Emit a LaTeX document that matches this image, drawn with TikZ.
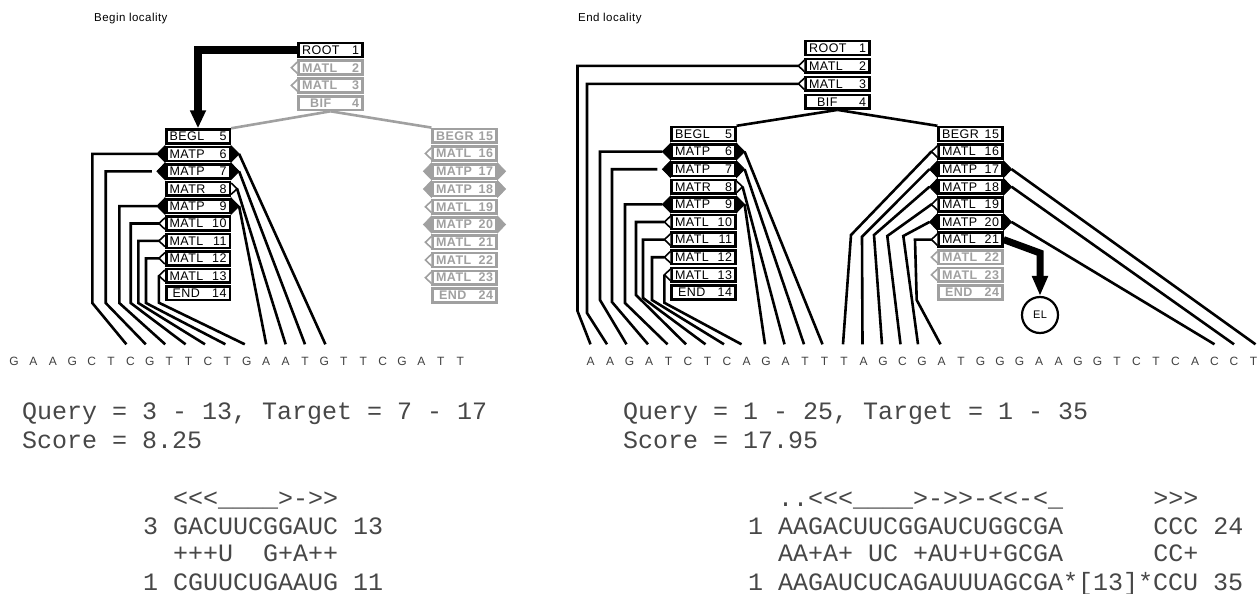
\documentclass[tikz,border=0pt]{standalone}
\usepackage{fontspec}
\setmainfont{Liberation Sans}
\setmonofont{Liberation Mono}
\newfontfamily\boxfont{Liberation Sans}[LetterSpace=4]
\usetikzlibrary{arrows.meta,calc}
\definecolor{ng}{RGB}{160,160,160}
\pgfdeclarelayer{paper}
\pgfdeclarelayer{bg}
\pgfsetlayers{paper,bg,main}
\newcommand\bx[2]{\makebox[57pt]{#1\hfill#2}}
\newcommand\mkPL[2][black]{\filldraw[#1,line width=0.8pt] (#2.north west) -- ([xshift=-8pt]#2.west) -- (#2.south west) -- cycle;}
\newcommand\mkPR[2][black]{\filldraw[#1,line width=0.8pt] (#2.north east) -- ([xshift=8pt]#2.east) -- (#2.south east) -- cycle;}
\newcommand\mkOL[2][black]{\draw[#1,line width=1.6pt,fill=white] ([yshift=-2.5pt]#2.north west) -- ([xshift=-6pt]#2.west) -- ([yshift=2.5pt]#2.south west);}
\newcommand\mkOR[2][black]{\draw[#1,line width=1.6pt,fill=white] ([yshift=-2.5pt]#2.north east) -- ([xshift=6pt]#2.east) -- ([yshift=2.5pt]#2.south east);}
\begin{document}
\begin{tikzpicture}[x=1pt,y=-1pt,
 nd/.style={draw=black,line width=2.6pt,fill=white,rectangle,minimum width=63.6pt,minimum height=13.8pt,inner sep=0pt,font=\boxfont\fontsize{12.5}{12.5}\selectfont,text=black},
 gnd/.style={nd,draw=ng,text=ng,font=\boxfont\bfseries\fontsize{12.5}{12.5}\selectfont},
 conn/.style={line width=2.6pt,black,line join=miter},
 gconn/.style={line width=2.6pt,ng},
 seq/.style={font=\boxfont\fontsize{12}{12}\selectfont,text=black!75,inner sep=0pt,text height=8.5pt,text depth=0pt,anchor=base},
 mono/.style={font=\ttfamily\fontsize{25}{25}\selectfont,anchor=base west,inner sep=0pt,text=black!72},
 ttl/.style={font=\boxfont\fontsize{11.5}{11.5}\selectfont,anchor=base west,inner sep=0pt},
 bigarrow/.style={line join=miter,black}
]
\begin{pgfonlayer}{paper}
\fill[white] (0,0) rectangle (1258,594);
\end{pgfonlayer}
\useasboundingbox (0,0) rectangle (1258,594);

% ---------------- titles
\node[ttl] (t1) at (94,22) {Begin locality};
\node[ttl] (t2) at (578,22) {End locality};

% ---------------- left panel nodes
\node[nd] (A1) at (330.5,50) {\bx{ROOT}{1}};
\node[gnd] (A2) at (330.5,67.7) {\bx{MATL}{2}};
\node[gnd] (A3) at (330.5,85.4) {\bx{MATL}{3}};
\node[gnd] (A4) at (330.5,103.1) {\bx{\hspace{8pt}BIF}{4}};
\node[nd] (B5) at (198,136.5) {\bx{BEGL}{5}};
\node[nd] (B6) at (198,153.9) {\bx{MATP}{6}};
\node[nd] (B7) at (198,171.3) {\bx{MATP}{7}};
\node[nd] (B8) at (198,188.7) {\bx{MATR}{8}};
\node[nd] (B9) at (198,206.1) {\bx{MATP}{9}};
\node[nd] (B10) at (198,223.5) {\bx{MATL}{10}};
\node[nd] (B11) at (198,240.9) {\bx{MATL}{11}};
\node[nd] (B12) at (198,258.3) {\bx{MATL}{12}};
\node[nd] (B13) at (198,275.7) {\bx{MATL}{13}};
\node[nd] (B14) at (198,293.1) {\bx{\hspace{3pt}END}{14}};
\node[gnd] (G15) at (464.5,135.8) {\bx{BEGR}{15}};
\node[gnd] (G16) at (464.5,153.5) {\bx{MATL}{16}};
\node[gnd] (G17) at (464.5,171.3) {\bx{MATP}{17}};
\node[gnd] (G18) at (464.5,189.0) {\bx{MATP}{18}};
\node[gnd] (G19) at (464.5,206.8) {\bx{MATL}{19}};
\node[gnd] (G20) at (464.5,224.5) {\bx{MATP}{20}};
\node[gnd] (G21) at (464.5,242.2) {\bx{MATL}{21}};
\node[gnd] (G22) at (464.5,260.0) {\bx{MATL}{22}};
\node[gnd] (G23) at (464.5,277.7) {\bx{MATL}{23}};
\node[gnd] (G24) at (464.5,295.5) {\bx{\hspace{3pt}END}{24}};

\mkOL[ng]{A2} \mkOL[ng]{A3}
\mkPL{B6} \mkPR{B6} \mkPL{B7} \mkPR{B7} \mkOR{B8} \mkPL{B9} \mkPR{B9}
\mkOL{B10} \mkOL{B11} \mkOL{B12} \mkOL{B13}
\mkOL[ng]{G16} \mkPL[ng]{G17} \mkPR[ng]{G17} \mkPL[ng]{G18} \mkPR[ng]{G18}
\mkOL[ng]{G19} \mkPL[ng]{G20} \mkPR[ng]{G20} \mkOL[ng]{G21} \mkOL[ng]{G22} \mkOL[ng]{G23}

\foreach \c [count=\i from 0] in {G,A,A,G,C,T,C,G,T,T,C,T,G,A,A,T,G,T,T,C,G,A,T,T}
  {\node[seq] (l\i) at ({14+19.4*\i},365) {\c};}

% ---------------- right panel nodes
\node[nd] (R1) at (837.5,48) {\bx{ROOT}{1}};
\node[nd] (R2) at (837.5,65.9) {\bx{MATL}{2}};
\node[nd] (R3) at (837.5,83.8) {\bx{MATL}{3}};
\node[nd] (R4) at (837.5,101.7) {\bx{\hspace{8pt}BIF}{4}};
\node[nd] (C5) at (703.5,134) {\bx{BEGL}{5}};
\node[nd] (C6) at (703.5,151.6) {\bx{MATP}{6}};
\node[nd] (C7) at (703.5,169.2) {\bx{MATP}{7}};
\node[nd] (C8) at (703.5,186.8) {\bx{MATR}{8}};
\node[nd] (C9) at (703.5,204.4) {\bx{MATP}{9}};
\node[nd] (C10) at (703.5,222) {\bx{MATL}{10}};
\node[nd] (C11) at (703.5,239.6) {\bx{MATL}{11}};
\node[nd] (C12) at (703.5,257.2) {\bx{MATL}{12}};
\node[nd] (C13) at (703.5,274.8) {\bx{MATL}{13}};
\node[nd] (C14) at (703.5,292.4) {\bx{\hspace{3pt}END}{14}};
\node[nd] (D15) at (970.5,134) {\bx{BEGR}{15}};
\node[nd] (D16) at (970.5,151.6) {\bx{MATL}{16}};
\node[nd] (D17) at (970.5,169.2) {\bx{MATP}{17}};
\node[nd] (D18) at (970.5,186.8) {\bx{MATP}{18}};
\node[nd] (D19) at (970.5,204.4) {\bx{MATL}{19}};
\node[nd] (D20) at (970.5,222) {\bx{MATP}{20}};
\node[nd] (D21) at (970.5,239.6) {\bx{MATL}{21}};
\node[gnd] (D22) at (970.5,257.2) {\bx{MATL}{22}};
\node[gnd] (D23) at (970.5,274.8) {\bx{MATL}{23}};
\node[gnd] (D24) at (970.5,292.4) {\bx{\hspace{3pt}END}{24}};
\node[draw,circle,line width=2.2pt,minimum size=36pt,inner sep=0pt,fill=white,font=\boxfont\fontsize{11}{11}\selectfont] (EL) at (1040,315) {EL};
\coordinate (elb) at (1040,253);

\mkOL{R2} \mkOL{R3}
\mkPL{C6} \mkPR{C6} \mkPL{C7} \mkPR{C7} \mkOR{C8} \mkPL{C9} \mkPR{C9}
\mkOL{C10} \mkOL{C11} \mkOL{C12} \mkOL{C13}
\mkOL{D16} \mkPL{D17} \mkPR{D17} \mkPL{D18} \mkPR{D18}
\mkOL{D19} \mkPL{D20} \mkPR{D20} \mkOL{D21} \mkOL[ng]{D22} \mkOL[ng]{D23}

\foreach \c [count=\j from 1] in {A,A,G,A,T,C,T,C,A,G,A,T,T,T,A,G,C,G,A,T,G,G,G,A,A,G,G,T,C,T,C,A,C,C,T}
  {\node[seq] (r\j) at ({590.5+19.5*(\j-1)},365) {\c};}

% ---------------- connectors
\begin{pgfonlayer}{bg}
% left panel
\draw[bigarrow,line width=8.5pt,-{Triangle[length=18pt,width=15pt]}] (A1.west) -| (B5.north);
\draw[gconn] (A4.south) -- (B5.north east);
\draw[gconn] (A4.south) -- (G15.north west);
\draw[conn] ([xshift=-8pt]B6.west) -| (92.3,303) -- ($(l6.north)+(-4,-12)$);
\draw[conn] ([xshift=-13pt]B7.west) -| (105.7,303) -- ($(l7.north)+(-4,-12)$);
\draw[conn] ([xshift=-8pt]B9.west) -| (119.3,303) -- ($(l8.north)+(-4,-12)$);
\draw[conn] ([xshift=-6pt]B10.west) -| (130.7,303) -- ($(l9.north)+(-3,-12)$);
\draw[conn] ([xshift=-6pt]B11.west) -| (138.3,303) -- ($(l10.north)+(-3,-12)$);
\draw[conn] ([xshift=-6pt]B12.west) -| (146,303) -- ($(l11.north)+(-2,-12)$);
\draw[conn] ([xshift=-6pt]B13.west) -- ++(0,27) -- ($(l12.north)+(-2,-12)$);
\draw[conn] ([xshift=8pt]B6.east) -- ($(l16.north)+(1,-12)$);
\draw[conn] ([xshift=8pt]B7.east) -- ($(l15.north)+(0,-12)$);
\draw[conn] ([xshift=6pt]B8.east) -- ($(l14.north)+(0,-12)$);
\draw[conn] ([xshift=8pt]B9.east) -- ($(l13.north)+(0,-12)$);
% right panel
\draw[conn] (R4.south) -- (C5.north east);
\draw[conn] (R4.south) -- (D15.north west);
\draw[conn] ([xshift=-6pt]R2.west) -| (577.5,311) -- ($(r1.north)+(0,-12)$);
\draw[conn] ([xshift=-6pt]R3.west) -| (587,313) -- ($(r2.north)+(-3,-12)$);
\draw[conn] ([xshift=-8pt]C6.west) -| (600,300) -- ($(r3.north)+(-3,-12)$);
\draw[conn] ([xshift=-13pt]C7.west) -| (612,302) -- ($(r4.north)+(-1,-12)$);
\draw[conn] ([xshift=-8pt]C9.west) -| (625,303) -- ($(r5.north)+(-1,-12)$);
\draw[conn] ([xshift=-6pt]C10.west) -| (636,295) -- ($(r6.north)+(-2,-12)$);
\draw[conn] ([xshift=-6pt]C11.west) -| (643,298) -- ($(r7.north)+(-2,-12)$);
\draw[conn] ([xshift=-6pt]C12.west) -| (652,300) -- ($(r8.north)+(-3,-12)$);
\draw[conn] ([xshift=-6pt]C13.west) -- ++(0,28) -- ($(r9.north)+(-5,-12)$);
\draw[conn] ([xshift=8pt]C6.east) -- ($(r13.north)+(-2,-12)$);
\draw[conn] ([xshift=8pt]C7.east) -- ($(r12.north)+(-1,-12)$);
\draw[conn] ([xshift=6pt]C8.east) -- ($(r11.north)+(-1,-12)$);
\draw[conn] ([xshift=8pt]C9.east) -- ($(r10.north)+(-1,-12)$);
\draw[conn] ([xshift=-6pt]D16.west) -- (851,235) -- ($(r14.north)+(-1,-12)$);
\draw[conn] ([xshift=-8pt]D17.west) -- (862,236.7) -- ($(r15.north)+(-1,-12)$);
\draw[conn] ([xshift=-8pt]D18.west) -- (874,235) -- ($(r16.north)+(-1,-12)$);
\draw[conn] ([xshift=-6pt]D19.west) -- (887.3,236) -- ($(r17.north)+(-2,-12)$);
\draw[conn] ([xshift=-8pt]D20.west) -- (903.3,236) -- ($(r18.north)+(-4,-12)$);
\draw[conn] ([xshift=-6pt]D21.west) -- (915,239.6) -- (916.7,300) -- ($(r19.north)+(-1,-12)$);
\draw[conn] ([xshift=8pt]D17.east) -- ($(r35.north)+(2,-12)$);
\draw[conn] ([xshift=8pt]D18.east) -- ($(r34.north)+(0,-12)$);
\draw[conn] ([xshift=8pt]D20.east) -- ($(r33.north)+(0,-12)$);
\draw[bigarrow,line width=7pt,-{Triangle[length=20pt,width=15pt]}] (D21.east) -- (elb) -- (EL.north);
\end{pgfonlayer}

% ---------------- alignment text
\node[mono] (lq) at (22,419) {Query~=~3~-~13,~Target~=~7~-~17};
\node[mono] (ls) at (22,448) {Score~=~8.25};
\node[mono] (la1) at (143,506) {~~<<<\_\_\_\_>->>};
\node[mono] (la2) at (143,534) {3~GACUUCGGAUC~13};
\node[mono] (la3) at (143,561) {~~+++U~~G+A++};
\node[mono] (la4) at (143,590) {1~CGUUCUGAAUG~11};

\node[mono] (rq) at (623,419) {Query~=~1~-~25,~Target~=~1~-~35};
\node[mono] (rs) at (623,448) {Score~=~17.95};
\node[mono] (ra1) at (748,506) {~~..<<<\_\_\_\_>->>-<<-<\_~~~~~~>>>};
\node[mono] (ra2) at (748,534) {1~AAGACUUCGGAUCUGGCGA~~~~~~CCC~24};
\node[mono] (ra3) at (748,561) {~~AA+A+~UC~+AU+U+GCGA~~~~~~CC+};
\node[mono] (ra4) at (748,590) {1~AAGAUCUCAGAUUUAGCGA*[13]*CCU~35};
\end{tikzpicture}
\end{document}
